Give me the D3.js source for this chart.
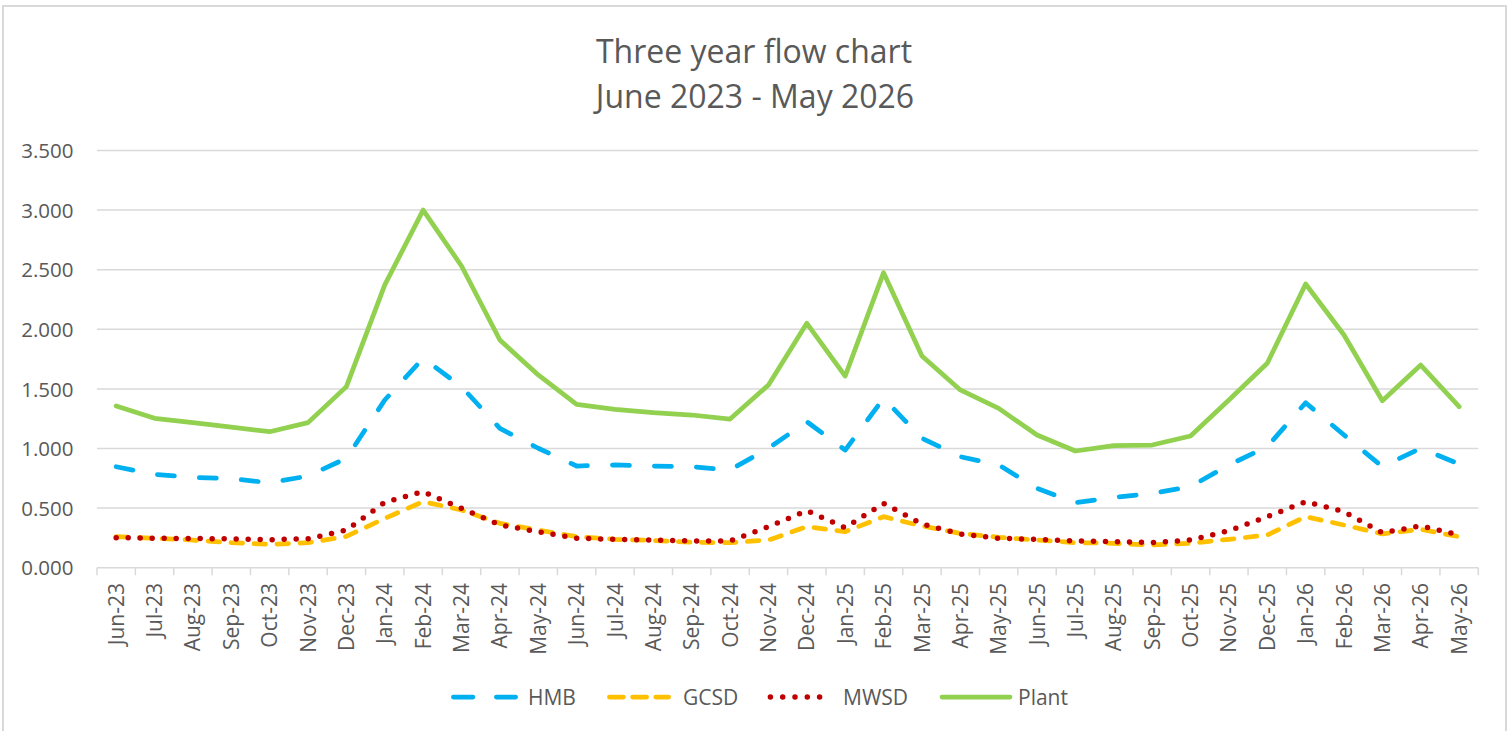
<!DOCTYPE html>
<html>
<head>
<meta charset="utf-8">
<script src="https://cdn.jsdelivr.net/npm/d3@7"></script>
<style>
  html, body { margin: 0; padding: 0; background: #fff; }
  svg { display: block; }
  text { font-family: "Open Sans", sans-serif; fill: #595959; }
</style>
</head>
<body>
<svg id="chart" width="1509" height="731"></svg>
<script>
const months = ["Jun-23","Jul-23","Aug-23","Sep-23","Oct-23","Nov-23","Dec-23","Jan-24","Feb-24","Mar-24","Apr-24","May-24",
  "Jun-24","Jul-24","Aug-24","Sep-24","Oct-24","Nov-24","Dec-24","Jan-25","Feb-25","Mar-25","Apr-25","May-25",
  "Jun-25","Jul-25","Aug-25","Sep-25","Oct-25","Nov-25","Dec-25","Jan-26","Feb-26","Mar-26","Apr-26","May-26"];

const hmb = [0.847, 0.783, 0.758, 0.747, 0.713, 0.769, 0.918, 1.407, 1.757, 1.519, 1.169, 1.002,
  0.853, 0.862, 0.853, 0.847, 0.820, 1.002, 1.225, 0.987, 1.421, 1.086, 0.931, 0.862,
  0.666, 0.545, 0.590, 0.624, 0.680, 0.862, 1.015, 1.384, 1.113, 0.847, 1.002, 0.870];

const gcsd = [0.260, 0.247, 0.232, 0.210, 0.196, 0.210, 0.262, 0.414, 0.554, 0.484, 0.372, 0.316,
  0.260, 0.238, 0.228, 0.213, 0.210, 0.232, 0.344, 0.302, 0.428, 0.350, 0.288, 0.255,
  0.232, 0.210, 0.205, 0.190, 0.205, 0.238, 0.274, 0.428, 0.358, 0.283, 0.322, 0.260];

const mwsd = [0.252, 0.247, 0.245, 0.242, 0.235, 0.242, 0.316, 0.548, 0.638, 0.498, 0.358, 0.302,
  0.247, 0.238, 0.232, 0.224, 0.224, 0.344, 0.478, 0.336, 0.540, 0.367, 0.283, 0.247,
  0.238, 0.224, 0.219, 0.210, 0.232, 0.310, 0.428, 0.554, 0.470, 0.294, 0.350, 0.274];

const plant = [1.357, 1.253, 1.217, 1.180, 1.141, 1.217, 1.519, 2.372, 3.000, 2.531, 1.910, 1.617,
  1.371, 1.329, 1.300, 1.281, 1.247, 1.533, 2.050, 1.608, 2.475, 1.776, 1.491, 1.337,
  1.113, 0.979, 1.024, 1.029, 1.105, 1.407, 1.715, 2.380, 1.952, 1.401, 1.700, 1.351];

const yTicks = [0, 0.5, 1.0, 1.5, 2.0, 2.5, 3.0, 3.5];
const titleLines = ["Three year flow chart", "June 2023 - May 2026"];

const series = [
  { name: "HMB",   values: hmb,   color: "#00B0F0", width: 4.75, dash: "17 25",    legendDash: "19.5 23.5" },
  { name: "GCSD",  values: gcsd,  color: "#FFC000", width: 4.75, dash: "11.5 11.5", legendDash: "14 9.2" },
  { name: "MWSD",  values: mwsd,  color: "#C00000", width: 5.5,  dash: "0 12",     legendDash: "0 12.3" },
  { name: "Plant", values: plant, color: "#92D050", width: 4.75, dash: null,       legendDash: null }
];

(function draw() {
const svg = d3.select("#chart");

// outer border
svg.append("rect")
  .attr("x", 3).attr("y", 6).attr("width", 1503).attr("height", 740)
  .attr("fill", "none").attr("stroke", "#d9d9d9").attr("stroke-width", 2);

const pLeft = 97, pRight = 1478.3, pTop = 150.5, pBottom = 567.7;

const x = d3.scaleBand().domain(months).range([pLeft, pRight]).paddingInner(0).paddingOuter(0);
const y = d3.scaleLinear().domain([0, 3.5]).range([pBottom, pTop]);

// title
svg.append("text")
  .attr("x", 754).attr("y", 63.3)
  .attr("text-anchor", "middle")
  .style("font-size", "32px")
  .text(titleLines[0]);
svg.append("text")
  .attr("x", 755).attr("y", 107.5)
  .attr("text-anchor", "middle")
  .style("font-size", "32px")
  .text(titleLines[1]);

// gridlines
svg.append("g").selectAll("line")
  .data(yTicks.filter(d => d > 0))
  .join("line")
  .attr("x1", pLeft).attr("x2", pRight)
  .attr("y1", d => y(d)).attr("y2", d => y(d))
  .attr("stroke", "#d9d9d9").attr("stroke-width", 1.5);

// y axis labels
const yAxis = d3.axisLeft(y).tickValues(yTicks).tickFormat(d3.format(".3f")).tickSize(0).tickPadding(0);
const gy = svg.append("g").attr("transform", `translate(${73.5},0)`).call(yAxis);
gy.select(".domain").remove();
gy.selectAll("text")
  .style("font-family", "'Open Sans', sans-serif")
  .style("font-size", "20.5px")
  .attr("fill", "#595959")
  .attr("dy", "0.35em");

// x axis line + ticks between categories
const gx = svg.append("g");
gx.append("line")
  .attr("x1", pLeft).attr("x2", pRight)
  .attr("y1", pBottom).attr("y2", pBottom)
  .attr("stroke", "#d9d9d9").attr("stroke-width", 1.5);
const tickPos = months.map(m => x(m)).concat([x(months[months.length - 1]) + x.bandwidth()]);
gx.selectAll("line.tick")
  .data(tickPos)
  .join("line")
  .attr("class", "tick")
  .attr("x1", d => d).attr("x2", d => d)
  .attr("y1", pBottom).attr("y2", pBottom + 7.5)
  .attr("stroke", "#d9d9d9").attr("stroke-width", 1.5);

gx.selectAll("text")
  .data(months)
  .join("text")
  .attr("transform", d => `translate(${x(d) + x.bandwidth() / 2},${583})rotate(-90)`)
  .attr("text-anchor", "end")
  .attr("dy", "0.36em")
  .style("font-size", "21px")
  .text(d => d);

// lines
const line = d3.line()
  .x((d, i) => x(months[i]) + x.bandwidth() / 2)
  .y(d => y(d));

svg.append("g").selectAll("path")
  .data(series)
  .join("path")
  .attr("d", s => line(s.values))
  .attr("fill", "none")
  .attr("stroke", s => s.color)
  .attr("stroke-width", s => s.width)
  .attr("stroke-linecap", "round")
  .attr("stroke-linejoin", "round")
  .attr("stroke-dasharray", s => s.dash);

// legend
const legendItems = [
  { x1: 451, x2: 518, tx: 528 },
  { x1: 607, x2: 671, tx: 683 },
  { x1: 768, x2: 830, tx: 843 },
  { x1: 942, x2: 1010, tx: 1018 }
];
const lg = svg.append("g");
series.forEach((s, i) => {
  const p = legendItems[i];
  lg.append("line")
    .attr("x1", p.x1 + (s.dash ? 2.4 : 0)).attr("x2", p.x2 - (s.dash ? 2.4 : 0))
    .attr("y1", 697).attr("y2", 697)
    .attr("stroke", s.color)
    .attr("stroke-width", s.width)
    .attr("stroke-linecap", "round")
    .attr("stroke-dasharray", s.legendDash);
  lg.append("text")
    .attr("x", p.tx).attr("y", 705)
    .style("font-size", "21px")
    .text(s.name);
});
})();
</script>
</body>
</html>
